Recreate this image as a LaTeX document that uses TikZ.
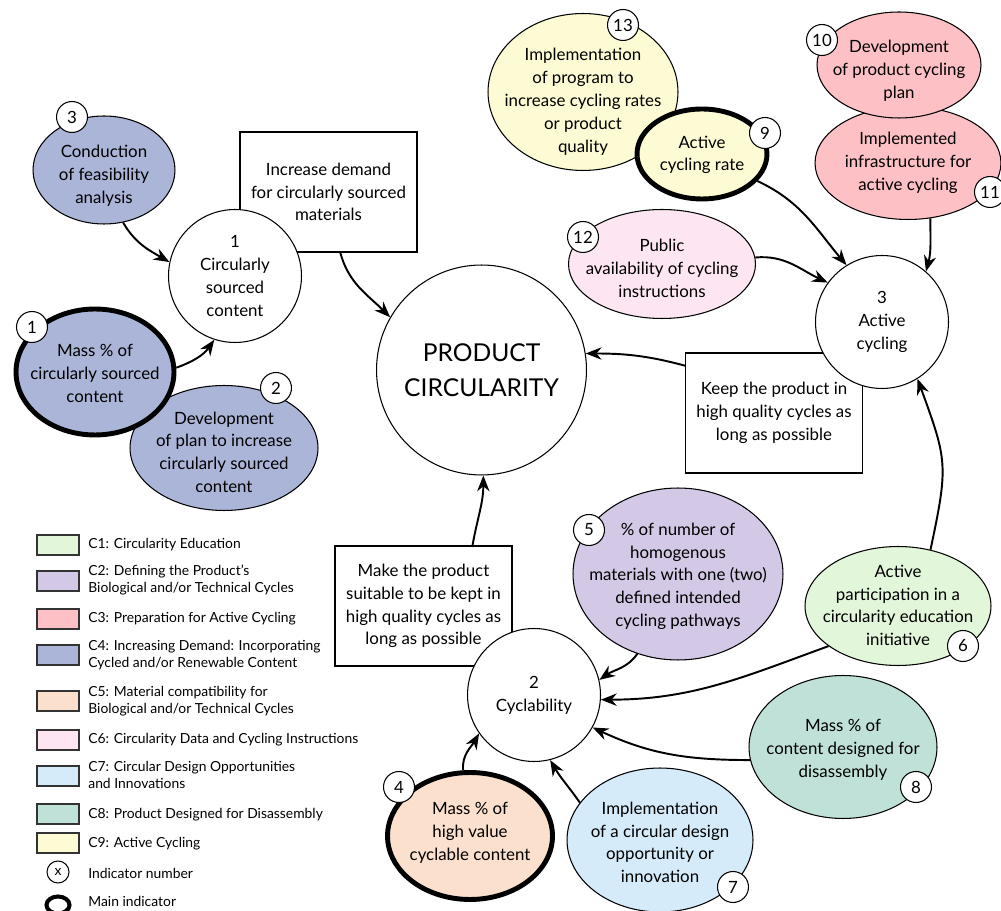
\documentclass[tikz,border=0pt]{standalone}
\usepackage{fontspec}
\setmainfont{Lato}
\usepackage{tikz}
\usetikzlibrary{shapes.geometric}
\usetikzlibrary{arrows.meta}

\definecolor{eduGreen}{HTML}{E2F6DA}
\definecolor{cyclePurple}{HTML}{D3C9E6}
\definecolor{prepRed}{HTML}{FDC0C4}
\definecolor{demandBlue}{HTML}{ABB5D7}
\definecolor{matPeach}{HTML}{FBE0CD}
\definecolor{dataPink}{HTML}{FDE5F1}
\definecolor{designBlue}{HTML}{D6EBFA}
\definecolor{disTeal}{HTML}{C0E1D7}
\definecolor{activeYellow}{HTML}{FDFBD3}

\newcommand{\ovaltext}[2][0pt]{\makebox[0pt]{\smash{\raisebox{\dimexpr-.25em-#1\relax}{\begin{tabular}{@{}c@{}}#2\end{tabular}}}}}
\newcommand{\keylines}[1]{\begin{tabular}{@{}l@{}}#1\end{tabular}}

\begin{document}
\begin{tikzpicture}[x=0.02cm, y=0.02cm,
  every node/.style={font=\fontsize{9.6}{13}\selectfont},
  hub/.style={draw, circle, fill=white, line width=0.6pt, align=center, minimum size=2.66cm, inner sep=0pt},
  goal/.style={draw, rectangle, fill=white, line width=0.6pt, align=center, minimum width=3.54cm, minimum height=2.4cm},
  ind/.style={draw, ellipse, line width=0.6pt, inner sep=0pt},
  mainind/.style={line width=2.8pt},
  badge/.style={draw, circle, fill=white, line width=0.6pt, minimum size=0.62cm, inner sep=0pt},
  link/.style={-{Stealth[length=9pt, width=7pt]}, line width=1.1pt},
  key/.style={draw=black!80, rectangle, line width=0.6pt, minimum width=0.84cm, minimum height=0.4cm},
  keytext/.style={anchor=west, inner xsep=0pt, font=\fontsize{7.9}{9.6}\selectfont}]
  \useasboundingbox (0,0) rectangle (1001,-911);

  % Objetivos
  \node[goal] (b1) at (328.5,-192) {Increase demand\\for circularly sourced\\materials};
  \node[goal] (b2) at (774,-413) {Keep the product in\\high quality cycles as\\long as possible};
  \node[goal] (b3) at (423.5,-606) {Make the product\\suitable to be kept in\\high quality cycles as\\long as possible};

  % Nodos centrales
  \node[draw, circle, fill=white, line width=0.6pt, align=center, minimum size=4.2cm,
        font=\fontsize{14}{20}\selectfont] (pc) at (481.5,-370) {PRODUCT\\CIRCULARITY};
  \node[hub] (c1) at (235,-276) {1\\Circularly\\sourced\\content};
  \node[hub] (c2) at (534,-695) {2\\Cyclability};
  \node[hub] (c3) at (882,-322) {3\\Active\\cycling};

  % Indicadores
  \node[ind, fill=demandBlue, minimum width=3.76cm, minimum height=2.5cm] (e2) at (224,-448)
    {\ovaltext[3.4pt]{Development\\of plan to increase\\circularly sourced\\content}};
  \node[ind, mainind, fill=demandBlue, minimum width=3.16cm, minimum height=2.52cm] (e1) at (95,-372)
    {\ovaltext[1.7pt]{Mass \% of\\circularly sourced\\content}};
  \node[ind, fill=demandBlue, minimum width=2.84cm, minimum height=2.16cm] (e3) at (104,-170)
    {\ovaltext[3.4pt]{Conduction\\of feasibility\\analysis}};
  \node[ind, fill=activeYellow, minimum width=3.8cm, minimum height=3.14cm] (e13) at (583,-92)
    {\ovaltext[5.7pt]{Implementation\\of program to\\increase cycling rates\\or product\\quality}};
  \node[ind, mainind, fill=activeYellow, minimum width=2.6cm, minimum height=1.8cm] (e9) at (702,-154)
    {\ovaltext[0.6pt]{Active\\cycling rate}};
  \node[ind, fill=dataPink, minimum width=3.74cm, minimum height=2.18cm] (e12) at (662,-264)
    {\ovaltext[3.4pt]{Public\\availability of cycling\\instructions}};
  \node[ind, fill=prepRed, minimum width=3.72cm, minimum height=2.26cm] (e11) at (908,-163)
    {\ovaltext{Implemented\\infrastructure for\\active cycling}};
  \node[ind, fill=prepRed, minimum width=3.28cm, minimum height=2.12cm] (e10) at (899,-65)
    {\ovaltext[3.4pt]{Development\\of product cycling\\plan}};
  \node[ind, fill=cyclePurple, minimum width=4.2cm, minimum height=3.44cm] (e5) at (678,-574)
    {\ovaltext[1.4pt]{\% of number of\\homogenous\\materials with one (two)\\defined intended\\cycling pathways}};
  \node[ind, fill=eduGreen, minimum width=3.72cm, minimum height=2.38cm] (e6) at (898,-606)
    {\ovaltext[0.6pt]{Active\\participation in a\\circularity education\\initiative}};
  \node[ind, fill=disTeal, minimum width=3.76cm, minimum height=2.86cm] (e8) at (843,-747)
    {\ovaltext[1.7pt]{Mass \% of\\content designed for\\disassembly}};
  \node[ind, fill=designBlue, minimum width=3.72cm, minimum height=2.88cm] (e7) at (660,-840)
    {\ovaltext[2.3pt]{Implementation\\of a circular design\\opportunity or\\innovation}};
  \node[ind, mainind, fill=matPeach, minimum width=3.3cm, minimum height=2.54cm] (e4) at (470,-836)
    {\ovaltext[-1.7pt]{Mass \% of\\high value\\cyclable content}};

  % Aristas
  \draw[link] (e3.-70) to[out=-60, in=150] (c1.168);
  \draw[link] (e1.3) to[out=20, in=-125] (c1.-108);
  \draw[link] (b1.-79) to[out=-75, in=135] (pc.150);
  \draw[link] (b3.51) to[out=80, in=-90] (pc.-89);
  \draw[link] (b2.152) to[out=165, in=0] (pc.9);
  \draw[link] (e9.-26) to[out=-25, in=130] (c3.122);
  \draw[link] (e12.4) to[out=5, in=155] (c3.144);
  \draw[link] (e11.-68) to[out=-90, in=75] (c3.49);
  \draw[link] (e6.60) to[out=78, in=-70, looseness=1.3] (c3.-58);
  \draw[link] (e6.210) to[out=200, in=0] (c2.-4);
  \draw[link] (e5.243) to[out=235, in=35] (c2.13);
  \draw[link] (e8.188) to[out=180, in=-25] (c2.-29);
  \draw[link] (e7.155) to[out=125, in=-60] (c2.-76);
  \draw[link] (e4.96) to[out=95, in=240] (c2.215);

  % Numeros
  \node[badge] (n1) at (32,-327) {1};
  \node[badge] (n2) at (276,-388) {2};
  \node[badge] (n3) at (72,-117) {3};
  \node[badge] (n4) at (399,-787) {4};
  \node[badge] (n5) at (589,-530) {5};
  \node[badge] (n6) at (963,-646) {6};
  \node[badge] (n7) at (733,-887) {7};
  \node[badge] (n8) at (916,-787) {8};
  \node[badge] (n9) at (765,-133) {9};
  \node[badge] (n10) at (822,-40) {10};
  \node[badge] (n11) at (990,-192) {11};
  \node[badge] (n12) at (583,-237) {12};
  \node[badge] (n13) at (623,-25) {13};

  % Leyenda
  \node[key, fill=eduGreen] (k1) at (58,-545) {};
  \node[keytext] at (88,-545) {C1: Circularity Education};
  \node[key, fill=cyclePurple] (k2) at (58,-581) {};
  \node[keytext] at (88,-581) {\keylines{C2: Defining the Product’s\\Biological and/or Technical Cycles}};
  \node[key, fill=prepRed] (k3) at (58,-619) {};
  \node[keytext] at (88,-619) {C3: Preparation for Active Cycling};
  \node[key, fill=demandBlue] (k4) at (58,-655) {};
  \node[keytext] at (88,-656) {\keylines{C4: Increasing Demand: Incorporating\\Cycled and/or Renewable Content}};
  \node[key, fill=matPeach] (k5) at (58,-701) {};
  \node[keytext] at (88,-702) {\keylines{C5: Material compatibility for\\Biological and/or Technical Cycles}};
  \node[key, fill=dataPink] (k6) at (58,-740) {};
  \node[keytext] at (88,-740) {C6: Circularity Data and Cycling Instructions};
  \node[key, fill=designBlue] (k7) at (58,-776) {};
  \node[keytext] at (88,-777) {\keylines{C7: Circular Design Opportunities\\and Innovations}};
  \node[key, fill=disTeal] (k8) at (58,-814) {};
  \node[keytext] at (88,-815) {C8: Product Designed for Disassembly};
  \node[key, fill=activeYellow] (k9) at (58,-843) {};
  \node[keytext] at (88,-844) {C9: Active Cycling};
  \node[draw, circle, line width=0.6pt, minimum size=0.44cm, inner sep=0pt,
        font=\fontsize{7.9}{9}\selectfont] (kx) at (58,-872) {x};
  \node[keytext] at (88,-873) {Indicator number};
  \node[draw, ellipse, line width=2.3pt, minimum width=0.46cm, minimum height=0.34cm] (km) at (58,-905) {};
  \node[keytext] at (88,-901) {Main indicator};
\end{tikzpicture}
\end{document}
